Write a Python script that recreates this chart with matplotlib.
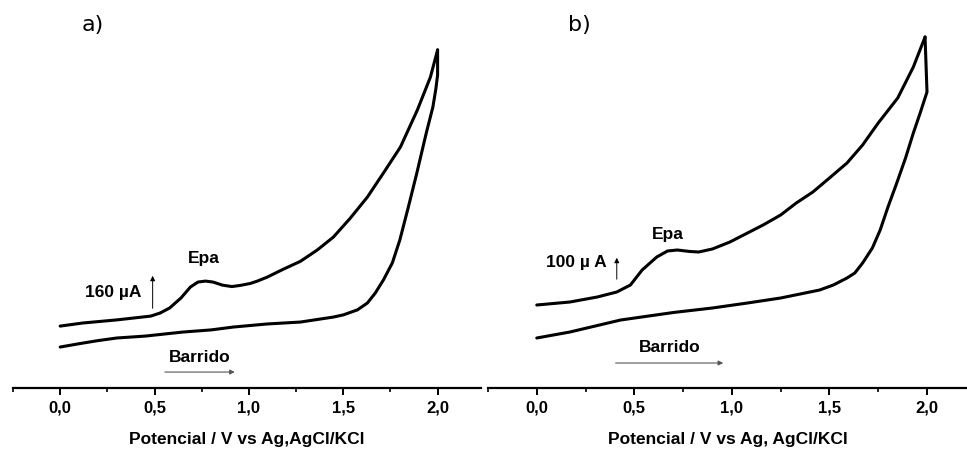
import matplotlib.pyplot as plt
from matplotlib.ticker import MultipleLocator, FuncFormatter

plt.rcParams["font.family"] = ["Liberation Sans", "DejaVu Sans"]

# Panel a) forward scan (V, uA)
a_fwd_v = [0.0, 0.12, 0.30, 0.48, 0.53, 0.58, 0.64, 0.69, 0.73, 0.77, 0.81,
           0.86, 0.91, 0.955, 1.007, 1.045, 1.098, 1.18, 1.273, 1.363, 1.448,
           1.538, 1.628, 1.713, 1.803, 1.893, 1.962, 2.0]
a_fwd_i = [260, 273, 286, 302, 315, 336, 378, 424, 445, 449, 445,
           432, 426, 431, 439, 449, 466, 498, 532, 580, 634,
           714, 802, 903, 1012, 1168, 1306, 1420]
# Panel a) reverse scan
a_rev_v = [2.0, 2.0, 1.99, 1.975, 1.94, 1.89, 1.845, 1.80, 1.76, 1.713, 1.67,
           1.628, 1.575, 1.5, 1.448, 1.273, 1.098, 0.917, 0.8, 0.65, 0.45,
           0.30, 0.2, 0.1, 0.0]
a_rev_i = [1420, 1315, 1252, 1180, 1071, 903, 760, 622, 525, 454, 399,
           357, 328, 307, 298, 277, 269, 256, 244, 235, 218,
           210, 199, 186, 172]

# Panel b) forward scan
b_fwd_v = [0.0, 0.17, 0.31, 0.41, 0.48, 0.54, 0.615, 0.67, 0.72, 0.785, 0.83,
           0.90, 0.99, 1.08, 1.16, 1.25, 1.33, 1.415, 1.50, 1.59, 1.67, 1.75,
           1.85, 1.93, 1.99]
b_fwd_i = [332, 344, 364, 384, 412, 472, 524, 548, 552, 546, 544,
           556, 584, 620, 652, 692, 740, 784, 840, 900, 972, 1060,
           1160, 1284, 1404]
# Panel b) reverse scan
b_rev_v = [1.99, 2.0, 1.965, 1.93, 1.89, 1.845, 1.80, 1.76, 1.72, 1.67, 1.63,
           1.59, 1.52, 1.45, 1.25, 1.08, 0.90, 0.70, 0.43, 0.17, 0.0]
b_rev_i = [1404, 1184, 1100, 1020, 920, 820, 724, 632, 560, 500, 460,
           440, 412, 392, 360, 340, 320, 302, 272, 224, 200]


def style_axis(ax, xmax, ymax, xlabel):
    ax.set_xlim(-0.25, xmax)
    ax.set_ylim(0, ymax)
    for side in ["left", "right", "top"]:
        ax.spines[side].set_visible(False)
    ax.spines["bottom"].set_linewidth(1.6)
    ax.set_yticks([])
    ax.xaxis.set_major_locator(MultipleLocator(0.5))
    ax.xaxis.set_minor_locator(MultipleLocator(0.25))
    ax.xaxis.set_major_formatter(
        FuncFormatter(lambda v, p: f"{v:.1f}".replace(".", ",")))
    ax.tick_params(axis="x", which="major", length=5, width=1.4, pad=4,
                   labelsize=12)
    ax.tick_params(axis="x", which="minor", length=3, width=1.2)
    for lab in ax.get_xticklabels():
        lab.set_fontweight("bold")
    ax.set_xlabel(xlabel, fontsize=12.5, fontweight="bold", labelpad=12)


def draw_marks(ax, label, label_xy, epa_xy, scale_txt, scale_xy, bar_x, bar_y0,
               bar_len, barr_xy, barr_x0, barr_x1, barr_y):
    ax.text(*label_xy, label, fontsize=16, family="DejaVu Sans",
            ha="center", va="center")
    ax.text(*epa_xy, "Epa", fontsize=12.5, fontweight="bold", ha="center",
            va="center")
    ax.text(*scale_xy, scale_txt, fontsize=12.5, fontweight="bold", ha="center",
            va="center")
    ax.annotate("", xy=(bar_x, bar_y0 + bar_len), xytext=(bar_x, bar_y0),
                arrowprops=dict(arrowstyle="-|>", lw=0.7, color="black",
                                mutation_scale=7))
    ax.text(*barr_xy, "Barrido", fontsize=12.5, fontweight="bold", ha="center",
            va="center")
    ax.annotate("", xy=(barr_x1, barr_y), xytext=(barr_x0, barr_y),
                arrowprops=dict(arrowstyle="-|>", lw=0.8, color="#555555",
                                mutation_scale=7))


def main():
    fig = plt.figure(figsize=(9.67, 4.5), dpi=100)
    bottom = 62 / 450
    height = 388 / 450
    ax_a = fig.add_axes([13 / 967, bottom, 468 / 967, height])
    ax_b = fig.add_axes([488 / 967, bottom, 479 / 967, height])

    lw = 2.2
    for ax, vs, cs in [(ax_a, a_fwd_v, a_fwd_i), (ax_a, a_rev_v, a_rev_i),
                       (ax_b, b_fwd_v, b_fwd_i), (ax_b, b_rev_v, b_rev_i)]:
        ax.plot(vs, cs, color="black", lw=lw, solid_joinstyle="round",
                solid_capstyle="round")

    style_axis(ax_a, 2.23, 388 * 4.2, "Potencial / V vs Ag,AgCl/KCl")
    style_axis(ax_b, 2.205, 388 * 4.0, "Potencial / V vs Ag, AgCl/KCl")

    draw_marks(ax_a, "a)", (0.175, 1525), (0.76, 546), "160 \u00b5A",
               (0.28, 399), 0.49, 323, 160, (0.74, 130), 0.54, 0.94, 67)
    draw_marks(ax_b, "b)", (0.22, 1452), (0.67, 612), "100 \u00b5 A",
               (0.205, 504), 0.41, 424, 108, (0.68, 160), 0.39, 0.97, 100)

    fig.savefig("out.png", dpi=100)
    return 0


if __name__ == "__main__":
    raise SystemExit(main())
